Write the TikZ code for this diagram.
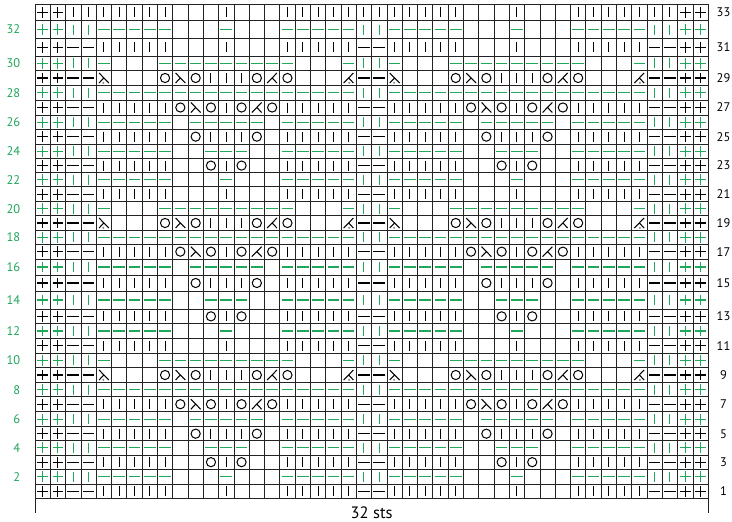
\documentclass[tikz,border=0pt]{standalone}
\usepackage{fontspec}
\setmainfont{PT Sans}
\definecolor{cgreen}{RGB}{30,168,90}
\definecolor{cgrid}{RGB}{35,35,35}
\newcount\symcol
\def\ylines{{4,20.7,38.3,56,70.7,85.3,100,115,129.3,144,158.7,172.5,186.7,201.7,215.7,230.3,244.3,259,275,291,309,323.7,338.3,353.3,367.3,382.7,396.7,411.7,426.7,440.7,455,469.3,484,498.3}}
\def\rowproc#1{\ifx#1\relax\else\global\advance\symcol by 1\relax\drawsym#1\expandafter\rowproc\fi}
\def\drawsym#1{%
  \pgfmathsetmacro\symx{35+(\the\symcol-0.5)*15.3}%
  \begin{scope}[shift={(\symx,\symy)}, line width=1.05pt, color=\symclr]
  \if#1k\draw (0,-5) -- (0,5);\fi
  \if#1p\draw (-5.8,0) -- (5.8,0);\fi
  \if#1+\draw (0,-5.4) -- (0,5.4) (-5.4,0) -- (5.4,0);\fi
  \if#1o\draw[line width=1pt] (0,0) circle[radius=4.6pt];\fi
  \if#1L\draw (-4.8,-5) -- (5,5) (0,0) -- (-4.8,5);\fi
  \if#1R\draw (4.8,-5) -- (-5,5) (0,0) -- (4.8,5);\fi
  \if#1D\draw (-4.8,-5) -- (5,5) (0,0) -- (-4.8,5); \fill[gray] (-0.5,4.8) circle[radius=1.1pt];\fi
  \if#1E\draw (4.8,-5) -- (-5,5) (0,0) -- (4.8,5); \fill[gray] (0.5,4.8) circle[radius=1.1pt];\fi
  \end{scope}}
\newcommand\rowcentre[2]{% #1 macro, #2 row number
  \pgfmathtruncatemacro\ria{33-#2}%
  \pgfmathtruncatemacro\rib{34-#2}%
  \pgfmathsetmacro\rya{\ylines[\ria]}%
  \pgfmathsetmacro\ryb{\ylines[\rib]}%
  \pgfmathsetmacro#1{(\rya+\ryb)/2}}
\newcommand\chartrow[3]{%
  \rowcentre{\symy}{#1}%
  \def\symclr{#2}%
  \global\symcol=0\relax
  \rowproc#3\relax}
\tikzset{
  gridline/.style={line width=0.75pt, draw=cgrid},
  rlab/.style={font=\fontsize{12.5}{14}\selectfont, text=black, inner sep=0pt},
  llab/.style={font=\fontsize{12.5}{14}\selectfont, text=cgreen, inner sep=0pt, anchor=east},
  stslab/.style={font=\fontsize{16.5}{19}\selectfont, text=black, inner sep=0pt, anchor=base}
}
\begin{document}
\begin{tikzpicture}[x=1pt,y=-1pt]
\useasboundingbox (0,0) rectangle (732,522);
\fill[white] (0,0) rectangle (732,522);
% grid
\foreach \i in {0,...,33}{
  \pgfmathsetmacro\yy{\ylines[\i]}
  \draw[gridline] (35,\yy) -- (708.2,\yy);
}
\foreach \k in {0,...,44}{
  \draw[gridline] ({35+\k*15.3},4) -- ({35+\k*15.3},498.3);
}
\coordinate (bl) at (35,513);
\coordinate (br) at (708.2,513);
\draw[gridline] (35,498.3) -- (bl);
\draw[gridline] (708.2,498.3) -- (br);
% odd rows (black)
\chartrow{1}{black}{++ppkkkkk...k...kkkkkppkkkkk...k...kkkkkpp++}
\chartrow{11}{black}{++ppkkkkk...k...kkkkkppkkkkk...k...kkkkkpp++}
\chartrow{21}{black}{++ppkkkkk...k...kkkkkppkkkkk...k...kkkkkpp++}
\chartrow{31}{black}{++ppkkkkk...k...kkkkkppkkkkk...k...kkkkkpp++}
\chartrow{3}{black}{++ppkkkkk..oko..kkkkkppkkkkk..oko..kkkkkpp++}
\chartrow{13}{black}{++ppkkkkk..oko..kkkkkppkkkkk..oko..kkkkkpp++}
\chartrow{23}{black}{++ppkkkkk..oko..kkkkkppkkkkk..oko..kkkkkpp++}
\chartrow{5}{black}{++ppkkkkk.okkko.kkkkkppkkkkk.okkko.kkkkkpp++}
\chartrow{15}{black}{++ppkkkkk.okkko.kkkkkppkkkkk.okkko.kkkkkpp++}
\chartrow{25}{black}{++ppkkkkk.okkko.kkkkkppkkkkk.okkko.kkkkkpp++}
\chartrow{7}{black}{++ppkkkkkoLokoRokkkkkppkkkkkoLokoRokkkkkpp++}
\chartrow{17}{black}{++ppkkkkkoLokoRokkkkkppkkkkkoLokoRokkkkkpp++}
\chartrow{27}{black}{++ppkkkkkoLokoRokkkkkppkkkkkoLokoRokkkkkpp++}
\chartrow{9}{black}{++ppD...oLokkkoRo...EppD...oLokkkoRo...Epp++}
\chartrow{19}{black}{++ppD...oLokkkoRo...EppD...oLokkkoRo...Epp++}
\chartrow{29}{black}{++ppD...oLokkkoRo...EppD...oLokkkoRo...Epp++}
\chartrow{33}{black}{++kkkkkkk...k...kkkkkkkkkkkk...k...kkkkkkk++}
% even rows (green)
\chartrow{2}{cgreen}{++kkppppp...p...pppppkkppppp...p...pppppkk++}
\chartrow{12}{cgreen}{++kkppppp...p...pppppkkppppp...p...pppppkk++}
\chartrow{22}{cgreen}{++kkppppp...p...pppppkkppppp...p...pppppkk++}
\chartrow{32}{cgreen}{++kkppppp...p...pppppkkppppp...p...pppppkk++}
\chartrow{4}{cgreen}{++kkppppp..ppp..pppppkkppppp..ppp..pppppkk++}
\chartrow{14}{cgreen}{++kkppppp..ppp..pppppkkppppp..ppp..pppppkk++}
\chartrow{24}{cgreen}{++kkppppp..ppp..pppppkkppppp..ppp..pppppkk++}
\chartrow{6}{cgreen}{++kkppppp.ppppp.pppppkkppppp.ppppp.pppppkk++}
\chartrow{16}{cgreen}{++kkppppp.ppppp.pppppkkppppp.ppppp.pppppkk++}
\chartrow{26}{cgreen}{++kkppppp.ppppp.pppppkkppppp.ppppp.pppppkk++}
\chartrow{8}{cgreen}{++kkpppppppppppppppppkkpppppppppppppppppkk++}
\chartrow{18}{cgreen}{++kkpppppppppppppppppkkpppppppppppppppppkk++}
\chartrow{28}{cgreen}{++kkpppppppppppppppppkkpppppppppppppppppkk++}
\chartrow{10}{cgreen}{++kkp...ppppppppp...pkkp...ppppppppp...pkk++}
\chartrow{20}{cgreen}{++kkp...ppppppppp...pkkp...ppppppppp...pkk++}
\chartrow{30}{cgreen}{++kkp...ppppppppp...pkkp...ppppppppp...pkk++}
% labels
\foreach \r in {1,3,...,33}{
  \rowcentre{\ly}{\r}
  \node[rlab] (R\r) at (723.5,\ly) {\r};
}
\foreach \r in {2,4,...,32}{
  \rowcentre{\ly}{\r}
  \node[llab] (L\r) at (20.5,\ly) {\r};
}
\node[stslab] (sts) at (371.6,518.6) {32 sts};
\end{tikzpicture}
\end{document}
